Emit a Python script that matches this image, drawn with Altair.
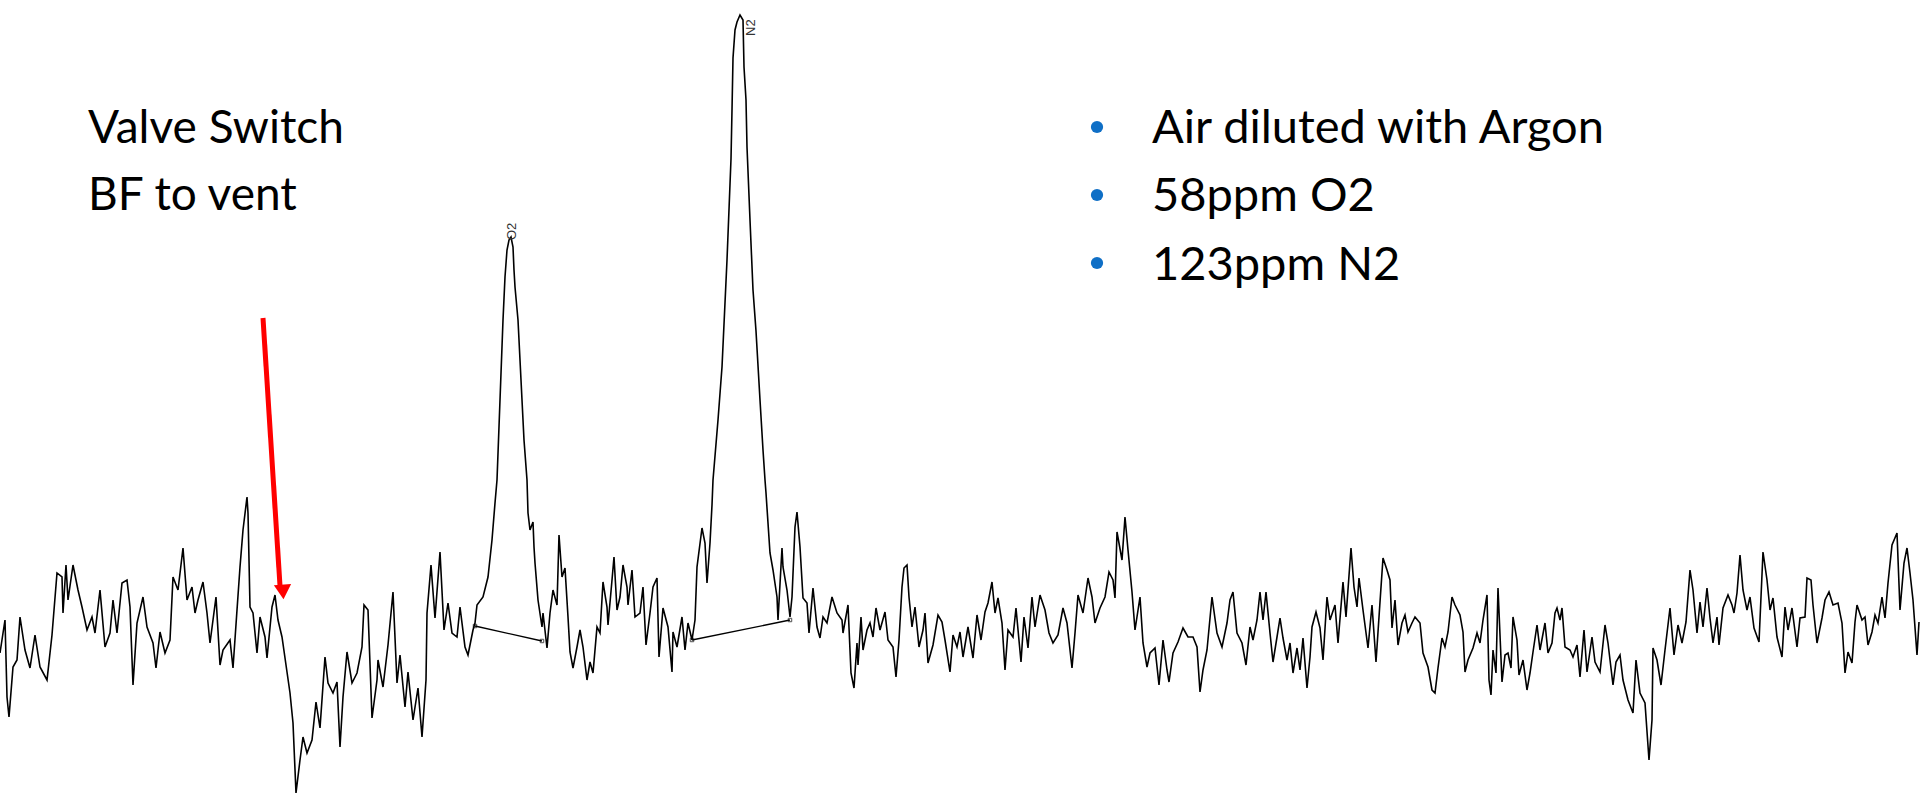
import altair as alt
import pandas as pd

# Chromatogram trace (time in arbitrary units, signal; larger = lower on screen)
trace_t = [0,5,7,9,13,17,20,25,30,35,40,47,52,57,62,63,66,68,73,78,82,87,92,95,100,105,110,113,117,122,127,130,133,137,143,147,153,156,160,165,170,173,178,183,187,192,195,198,203,207,210,216,220,223,230,233,237,240,243,247,248,250,253,257,260,265,267,272,275,278,282,287,290,293,296,300,303,307,312,316,320,325,328,333,337,340,343,347,352,357,362,364,368,372,377,378,383,388,393,397,400,405,408,413,418,422,426,427,431,435,440,444,448,452,457,460,465,468,473,475,477,483,488,492,495,497,500,503,505,507,509,511,513,514,515,518,521,524,527,528,530,533,534,535,538,542,543,547,550,553,557,559,562,565,568,570,573,577,580,583,587,590,593,597,600,603,607,608,612,614,617,620,623,627,628,632,635,640,643,646,650,653,657,659,663,668,672,673,677,682,685,688,692,695,697,702,705,707,710,712,713,718,722,727,731,732,733,735,737,740,743,744,746,747,750,753,756,760,763,765,766,770,773,777,778,782,783,787,790,792,795,797,800,803,807,809,813,817,820,823,827,832,837,842,843,848,851,854,857,858,861,863,867,870,873,876,880,885,888,893,896,899,902,904,907,909,912,915,919,923,925,928,933,938,942,945,950,953,957,960,963,968,973,977,981,985,988,992,995,998,1002,1005,1008,1013,1016,1021,1024,1028,1032,1035,1040,1045,1049,1053,1058,1063,1067,1072,1075,1078,1083,1088,1092,1095,1100,1105,1109,1113,1115,1117,1122,1125,1128,1132,1135,1140,1143,1147,1150,1155,1159,1163,1167,1169,1173,1178,1183,1188,1193,1197,1200,1203,1207,1212,1217,1222,1227,1230,1233,1237,1242,1246,1250,1253,1257,1260,1263,1266,1270,1273,1277,1280,1283,1287,1290,1293,1297,1300,1303,1307,1310,1312,1316,1320,1323,1327,1330,1335,1338,1343,1346,1351,1354,1357,1359,1363,1368,1372,1376,1380,1383,1387,1390,1392,1395,1398,1402,1405,1408,1412,1415,1420,1423,1428,1432,1435,1438,1442,1445,1448,1452,1455,1460,1463,1465,1468,1473,1477,1480,1483,1487,1489,1491,1493,1496,1498,1502,1505,1508,1511,1513,1517,1519,1523,1527,1530,1533,1537,1540,1545,1548,1552,1555,1557,1560,1562,1565,1570,1573,1577,1580,1584,1587,1592,1595,1600,1605,1608,1613,1616,1620,1623,1628,1633,1636,1640,1645,1649,1652,1653,1657,1661,1665,1670,1674,1678,1682,1686,1690,1693,1697,1700,1703,1707,1710,1713,1717,1719,1723,1728,1732,1734,1737,1740,1743,1747,1750,1754,1759,1763,1767,1770,1773,1777,1782,1785,1788,1792,1797,1800,1805,1807,1811,1813,1817,1822,1825,1829,1833,1838,1842,1845,1848,1852,1855,1857,1862,1865,1868,1872,1875,1878,1882,1885,1888,1892,1897,1900,1904,1907,1910,1913,1917,1919]
trace_s = [653,620,697,717,667,660,617,650,668,635,667,680,635,573,577,613,565,600,565,590,607,630,617,633,590,647,633,600,633,583,580,607,685,623,597,627,643,668,632,653,640,577,590,548,600,587,613,600,582,613,643,597,665,650,640,668,610,567,530,497,513,607,613,653,617,637,658,607,595,620,637,672,693,723,793,760,737,753,740,702,728,657,683,693,682,747,697,652,683,673,647,605,610,718,680,660,687,645,592,683,655,707,672,720,688,737,680,613,565,618,552,630,603,633,637,607,647,655,630,623,605,597,577,540,503,480,400,320,277,250,240,237,247,270,287,320,380,440,480,513,530,522,547,563,600,627,613,648,613,590,605,535,577,568,617,652,668,647,630,647,680,662,673,627,633,582,607,625,580,557,610,597,565,587,605,570,617,613,587,645,613,587,578,657,608,627,672,632,647,617,650,623,640,620,567,528,543,583,543,505,480,420,367,260,159,110,58,30,22,15,20,67,100,147,220,290,331,400,450,480,493,553,570,597,620,548,567,590,617,597,527,512,547,598,603,633,588,627,638,617,623,597,613,620,633,605,673,688,643,665,617,650,630,623,637,608,630,612,640,647,677,640,587,568,565,597,627,607,647,630,613,663,645,615,622,640,672,635,647,632,657,627,658,615,640,612,603,582,613,598,623,670,630,637,608,662,617,648,597,627,595,610,633,643,635,608,623,668,633,595,613,578,597,623,608,597,572,580,598,532,560,517,550,592,630,597,643,667,653,648,685,640,670,682,653,642,628,637,637,647,692,670,650,597,633,647,623,600,592,633,643,665,627,640,620,592,620,592,633,662,637,618,638,660,643,673,648,670,638,688,657,627,612,628,660,597,620,605,643,582,617,548,587,607,578,610,648,605,662,602,558,570,580,628,600,645,623,615,632,623,617,623,653,667,690,693,668,638,647,632,597,605,615,632,672,660,648,633,643,620,595,680,695,650,673,588,682,655,653,668,617,640,675,660,690,673,652,625,650,623,653,643,613,608,620,608,647,650,657,645,677,630,672,637,662,672,625,643,685,662,655,680,700,713,660,693,703,760,720,648,660,685,650,608,655,625,643,622,570,590,633,602,627,588,618,643,617,645,608,595,605,613,593,555,590,610,597,628,642,552,580,610,598,637,657,607,630,608,647,618,617,578,580,605,643,618,600,592,605,603,623,673,652,663,622,605,620,617,645,632,615,623,597,618,583,545,533,610,563,548,573,600,655,622]

# Integration baselines under the two peaks
base_t1 = [475, 542]
base_s1 = [626, 641]
base_t2 = [692, 790]
base_s2 = [640, 620]

# Peak labels
peak_names = ["O2", "N2"]
peak_t = [512, 751]
peak_s = [240, 36]

# Annotation texts
note_lines = ["Valve Switch", "BF to vent"]
note_t = [88, 88]
note_s = [143, 210]

bullet_lines = ["Air diluted with Argon", "58ppm O2", "123ppm N2"]
bullet_t = [1152, 1152, 1152]
bullet_s = [143, 211, 280]
dot_t = [1097, 1097, 1097]
dot_s = [127, 195, 263]

# Red arrow (valve switch event)
arrow_t = [263, 280]
arrow_s = [318, 586]
arrow_head_t = [283]
arrow_head_s = [592]

W, H = 1920, 797
xs = alt.Scale(domain=[0, W], nice=False, zero=False)
ys = alt.Scale(domain=[0, H], nice=False, zero=False, reverse=True)

df = pd.DataFrame({"t": trace_t, "s": trace_s, "i": list(range(len(trace_t)))})

trace = alt.Chart(df).mark_line(color="black", strokeWidth=1.6, clip=True).encode(
    x=alt.X("t:Q", scale=xs, axis=None),
    y=alt.Y("s:Q", scale=ys, axis=None),
    order="i:Q",
)

bl = pd.DataFrame({
    "t": base_t1 + base_t2,
    "s": base_s1 + base_s2,
    "g": ["a", "a", "b", "b"],
})
baselines = alt.Chart(bl).mark_line(color="black", strokeWidth=1.3).encode(
    x=alt.X("t:Q", scale=xs, axis=None),
    y=alt.Y("s:Q", scale=ys, axis=None),
    detail="g:N",
)
base_marks = alt.Chart(bl).mark_point(shape="square", size=12, color="black", filled=False, strokeWidth=1).encode(
    x=alt.X("t:Q", scale=xs, axis=None),
    y=alt.Y("s:Q", scale=ys, axis=None),
)

pk = pd.DataFrame({"t": peak_t, "s": peak_s, "label": peak_names})
peak_labels = alt.Chart(pk).mark_text(
    angle=270, align="left", baseline="middle", fontSize=13,
    font="Liberation Sans", color="#333333",
).encode(
    x=alt.X("t:Q", scale=xs, axis=None),
    y=alt.Y("s:Q", scale=ys, axis=None),
    text="label:N",
)

nt = pd.DataFrame({"t": note_t, "s": note_s, "txt": note_lines})
notes = alt.Chart(nt).mark_text(
    align="left", baseline="alphabetic", fontSize=46, font="Lato", color="#000000",
).encode(
    x=alt.X("t:Q", scale=xs, axis=None),
    y=alt.Y("s:Q", scale=ys, axis=None),
    text="txt:N",
)

bt = pd.DataFrame({"t": bullet_t, "s": bullet_s, "txt": bullet_lines})
bullets = alt.Chart(bt).mark_text(
    align="left", baseline="alphabetic", fontSize=47, font="Lato", color="#000000",
).encode(
    x=alt.X("t:Q", scale=xs, axis=None),
    y=alt.Y("s:Q", scale=ys, axis=None),
    text="txt:N",
)

dt = pd.DataFrame({"t": dot_t, "s": dot_s})
dots = alt.Chart(dt).mark_circle(size=150, color="#0F6FC6", opacity=1).encode(
    x=alt.X("t:Q", scale=xs, axis=None),
    y=alt.Y("s:Q", scale=ys, axis=None),
)

ar = pd.DataFrame({"t": [arrow_t[0]], "s": [arrow_s[0]], "t2": [arrow_t[1]], "s2": [arrow_s[1]]})
arrow = alt.Chart(ar).mark_rule(color="#FF0000", strokeWidth=5).encode(
    x=alt.X("t:Q", scale=xs, axis=None),
    y=alt.Y("s:Q", scale=ys, axis=None),
    x2="t2:Q",
    y2="s2:Q",
)
ah = pd.DataFrame({"t": arrow_head_t, "s": arrow_head_s})
arrow_head = alt.Chart(ah).mark_point(
    shape="M-1,-0.85L1,-0.85L0,0.85Z", size=300, filled=True, color="#FF0000",
    opacity=1, angle=356,
).encode(
    x=alt.X("t:Q", scale=xs, axis=None),
    y=alt.Y("s:Q", scale=ys, axis=None),
)

chart = alt.layer(
    trace, baselines, base_marks, peak_labels, notes, bullets, dots, arrow, arrow_head
).properties(
    width=W, height=H, padding=0, autosize="none", background="white",
).configure_view(stroke=None)

chart.save("out.html", embed_options={"renderer": "svg", "actions": False})
